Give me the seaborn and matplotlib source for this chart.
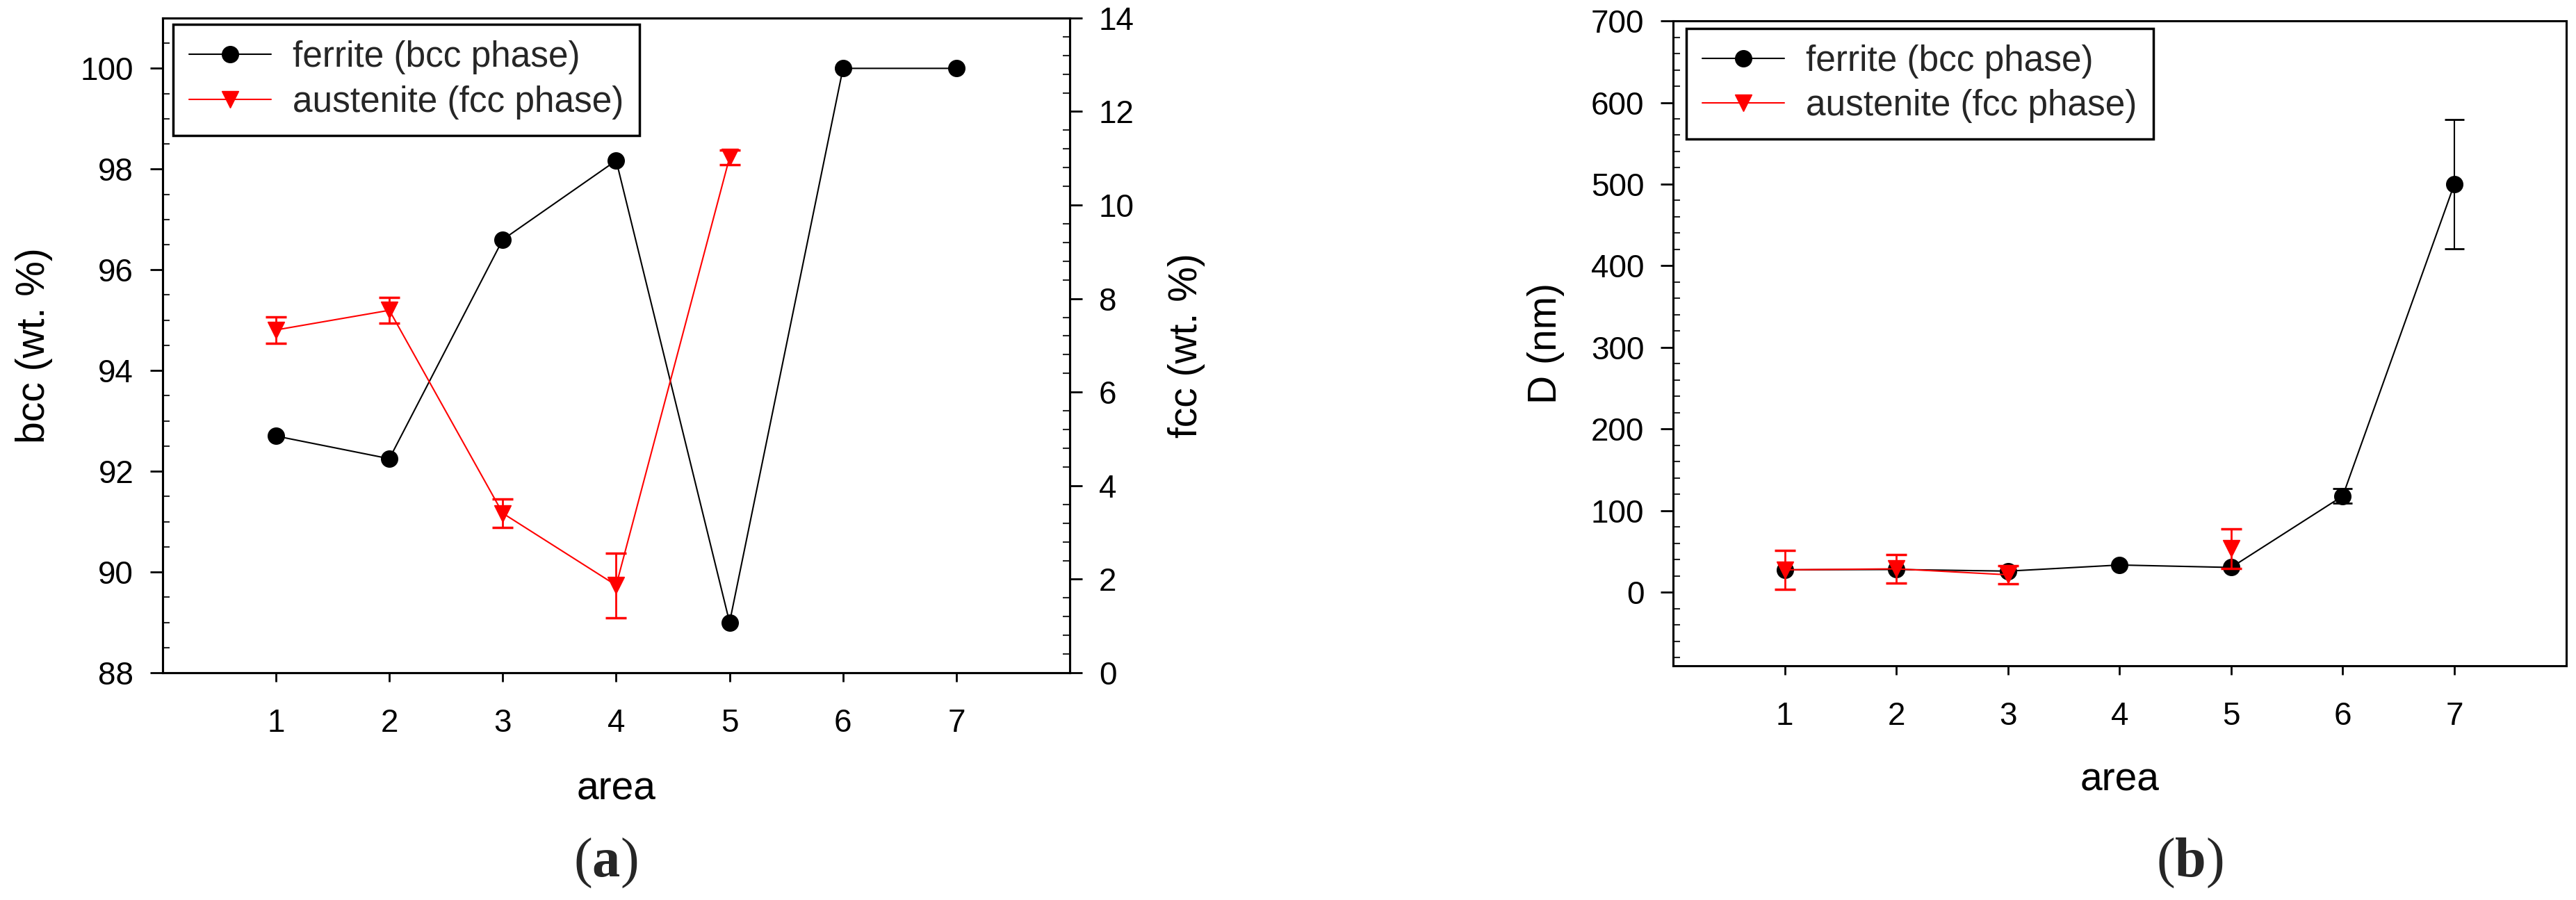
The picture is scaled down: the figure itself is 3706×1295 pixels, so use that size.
import numpy as np
import pandas as pd
import matplotlib
matplotlib.use("Agg")
import matplotlib.pyplot as plt
import seaborn as sns
from matplotlib.ticker import MultipleLocator
from matplotlib.lines import Line2D

sns.set_theme(style="ticks")
plt.rcParams["font.family"] = ["Liberation Sans", "DejaVu Sans"]
plt.rcParams["mathtext.fontset"] = "custom"
plt.rcParams["mathtext.rm"] = "Liberation Serif"
plt.rcParams["mathtext.bf"] = "Liberation Serif:bold"

# ── DATA ───────────────────────────────────────────────────
area      = [1, 2, 3, 4, 5, 6, 7]
fcc_area  = [1, 2, 3, 4, 5]

# (a) phase fractions
bcc_wt    = [92.7, 92.25, 96.6, 98.17, 89.0, 100.0, 100.0]
fcc_wt    = [7.33, 7.75, 3.41, 1.87, 11.02]
fcc_err   = [0.28, 0.27, 0.30, 0.69, 0.15]

# (b) crystallite size
D_bcc     = [27.6, 28.0, 26.0, 33.5, 30.5, 118.0, 500.0]
D_bcc_err = [np.nan, np.nan, np.nan, np.nan, np.nan, 9.0, 79.0]
D_fcc     = [27.6, 28.8, 21.5, np.nan, 53.5]
D_fcc_err = [23.8, 17.6, 11.2, np.nan, 24.0]

lab_bcc = "ferrite (bcc phase)"
lab_fcc = "austenite (fcc phase)"

# ── STYLE ──────────────────────────────────────────────────
TICK_FS, LABEL_FS, LEG_FS = 33, 41, 37
MS = 17


def style_axis(ax, side="left"):
    for s in ax.spines.values():
        s.set_visible(True)
        s.set_color("black")
        s.set_linewidth(2.2)
    ax.tick_params(axis="y", which="major", direction="out", length=13, width=2,
                   labelsize=TICK_FS, pad=17, colors="black")
    ax.tick_params(axis="y", which="minor", direction="in", length=7, width=1.5)
    ax.tick_params(axis="x", which="major", direction="out", length=9, width=2,
                   labelsize=TICK_FS, pad=28, top=False, colors="black")
    ax.tick_params(axis="x", which="minor", bottom=False, top=False)
    if side == "left":
        ax.tick_params(axis="y", which="both", left=True, right=False)
    else:
        ax.tick_params(axis="y", which="both", left=False, right=True)
    ax.grid(False)


def make_legend(ax, anchor):
    handles = [
        Line2D([], [], color="black", lw=1.5, marker="o", markersize=MS,
               markeredgecolor="black"),
        Line2D([], [], color="red", lw=1.5, marker="v", markersize=MS,
               markeredgecolor="red"),
    ]
    leg = ax.legend(handles, [lab_bcc, lab_fcc], loc="upper left",
                    bbox_to_anchor=anchor, borderaxespad=0, frameon=True,
                    fancybox=False, edgecolor="black", framealpha=1,
                    fontsize=LEG_FS, handlelength=2.3, handletextpad=0.6,
                    borderpad=0.45, labelspacing=0.3)
    leg.get_frame().set_linewidth(2.5)
    leg.set_zorder(10)


fig = plt.figure(figsize=(37.06, 12.95), dpi=100)
fig.patch.set_facecolor("white")

# ── (a) ────────────────────────────────────────────────────
ax_a = fig.add_axes([0.0631, 0.2525, 0.3522, 0.7275])
ax_a2 = ax_a.twinx()

sns.lineplot(x=area, y=bcc_wt, ax=ax_a, color="black", linewidth=1.5,
             marker="o", markersize=MS, markeredgecolor="black",
             markeredgewidth=1, legend=False)

ax_a2.errorbar(fcc_area, fcc_wt, yerr=fcc_err, fmt="none", ecolor="red",
               elinewidth=2, capsize=11, capthick=2.5, zorder=3)
sns.lineplot(x=fcc_area, y=fcc_wt, ax=ax_a2, color="red", linewidth=1.5,
             marker="v", markersize=MS, markeredgecolor="red",
             markeredgewidth=1, legend=False)

ax_a.set_xlim(0, 8)
ax_a.set_xticks(area)
ax_a.set_ylim(88, 101)
ax_a.set_yticks(np.arange(88, 101, 2))
ax_a.yaxis.set_minor_locator(MultipleLocator(0.5))
ax_a2.set_ylim(0, 14)
ax_a2.set_yticks(np.arange(0, 15, 2))
ax_a2.yaxis.set_minor_locator(MultipleLocator(0.4))

style_axis(ax_a, "left")
style_axis(ax_a2, "right")
ax_a2.tick_params(axis="x", which="both", bottom=False, labelbottom=False)

ax_a.set_xlabel("area", fontsize=LABEL_FS, color="black")
ax_a.set_ylabel("bcc (wt. %)", fontsize=LABEL_FS, color="black")
ax_a2.set_ylabel("fcc (wt. %)", fontsize=LABEL_FS, color="black")
ax_a.xaxis.set_label_coords(0.5, -0.1486)
ax_a.yaxis.set_label_coords(-0.121, 0.5)
ax_a2.yaxis.set_label_coords(1.108, 0.5)

make_legend(ax_a2, (0.0115, 0.99))

# ── (b) ────────────────────────────────────────────────────
ax_b = fig.add_axes([0.6495, 0.2602, 0.3466, 0.7166])

m = ~np.isnan(D_bcc_err)
ax_b.errorbar(np.array(area)[m], np.array(D_bcc)[m], yerr=np.array(D_bcc_err)[m],
              fmt="none", ecolor="black", elinewidth=1.5, capsize=10,
              capthick=2, zorder=2)
sns.lineplot(x=area, y=D_bcc, ax=ax_b, color="black", linewidth=1.5,
             marker="o", markersize=MS, markeredgecolor="black",
             markeredgewidth=1, legend=False, zorder=2)

df_fcc = pd.DataFrame({"area": fcc_area, "D": D_fcc, "err": D_fcc_err,
                       "seg": np.cumsum(np.isnan(D_fcc))}).dropna()
sns.lineplot(data=df_fcc, x="area", y="D", units="seg", estimator=None, ax=ax_b,
             color="red", linewidth=1.5, marker="v", markersize=MS,
             markeredgecolor="red", markeredgewidth=1, legend=False, zorder=4)
ax_b.errorbar(df_fcc["area"], df_fcc["D"], yerr=df_fcc["err"], fmt="none",
              ecolor="red", elinewidth=2, capsize=11, capthick=2.5, zorder=5)

ax_b.set_xlim(0, 8)
ax_b.set_xticks(area)
ax_b.set_ylim(-90, 700)
ax_b.set_yticks(np.arange(0, 701, 100))
ax_b.yaxis.set_minor_locator(MultipleLocator(20))
style_axis(ax_b, "left")

ax_b.set_xlabel("area", fontsize=LABEL_FS, color="black")
ax_b.set_ylabel("D (nm)", fontsize=LABEL_FS, color="black")
ax_b.xaxis.set_label_coords(0.5, -0.1476)
ax_b.yaxis.set_label_coords(-0.1214, 0.5)

make_legend(ax_b, (0.0148, 0.9886))

# ── CAPTIONS ───────────────────────────────────────────────
fig.text(0.235, 0.041, r"$\mathrm{(}\mathbf{a}\mathrm{)}$", ha="center",
         va="center", fontsize=58)
fig.text(0.85, 0.041, r"$\mathrm{(}\mathbf{b}\mathrm{)}$", ha="center",
         va="center", fontsize=58)

fig.savefig("out.png", dpi=100, facecolor="white")
